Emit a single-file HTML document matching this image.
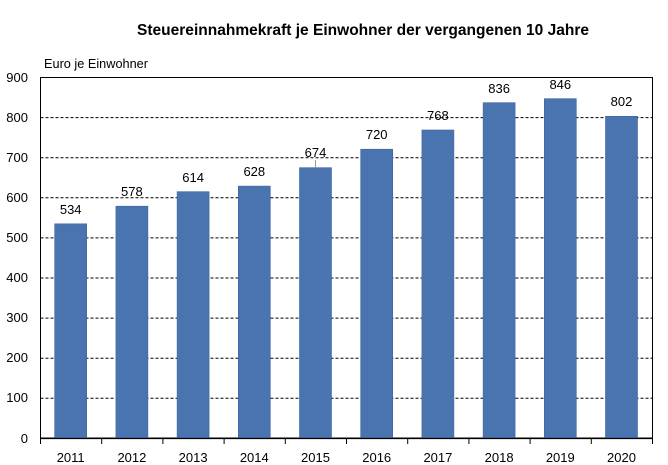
<!DOCTYPE html>
<html><head><meta charset="utf-8"><style>html,body{margin:0;padding:0;background:#fff}svg{display:block}</style></head>
<body>
<svg width="668" height="465" viewBox="0 0 668 465" xmlns="http://www.w3.org/2000/svg" font-family="'Liberation Sans', sans-serif">
<text x="137" y="35" font-size="16" font-weight="bold" textLength="452" lengthAdjust="spacingAndGlyphs">Steuereinnahmekraft je Einwohner der vergangenen 10 Jahre</text>
<text x="44" y="68" font-size="12.5" textLength="104" lengthAdjust="spacingAndGlyphs">Euro je Einwohner</text>
<g stroke="#000" stroke-width="1" stroke-dasharray="3,2">
<line x1="40.5" y1="117.6" x2="652.5" y2="117.6"/>
<line x1="40.5" y1="157.7" x2="652.5" y2="157.7"/>
<line x1="40.5" y1="197.8" x2="652.5" y2="197.8"/>
<line x1="40.5" y1="237.9" x2="652.5" y2="237.9"/>
<line x1="40.5" y1="278.0" x2="652.5" y2="278.0"/>
<line x1="40.5" y1="318.1" x2="652.5" y2="318.1"/>
<line x1="40.5" y1="358.2" x2="652.5" y2="358.2"/>
<line x1="40.5" y1="398.3" x2="652.5" y2="398.3"/>
</g>
<rect x="40.5" y="77.5" width="612" height="360.5" fill="none" stroke="#000" stroke-width="1"/>
<g fill="#4a74b0" stroke="#3d63a0" stroke-width="0.6">
<rect x="54.7" y="223.8" width="32" height="214.2"/>
<rect x="115.9" y="206.2" width="32" height="231.8"/>
<rect x="177.1" y="191.7" width="32" height="246.3"/>
<rect x="238.3" y="186.1" width="32" height="251.9"/>
<rect x="299.5" y="167.7" width="32" height="270.3"/>
<rect x="360.7" y="149.2" width="32" height="288.8"/>
<rect x="421.9" y="130.0" width="32" height="308.0"/>
<rect x="483.1" y="102.7" width="32" height="335.3"/>
<rect x="544.3" y="98.7" width="32" height="339.3"/>
<rect x="605.5" y="116.3" width="32" height="321.7"/>
</g>
<line x1="315.5" y1="160" x2="315.5" y2="167.7" stroke="#999" stroke-width="1"/>
<line x1="40.5" y1="438.5" x2="652.5" y2="438.5" stroke="#000" stroke-width="1.2"/>
<g stroke="#000" stroke-width="1">
<line x1="40.5" y1="438" x2="40.5" y2="444"/><line x1="101.7" y1="438" x2="101.7" y2="444"/><line x1="162.9" y1="438" x2="162.9" y2="444"/><line x1="224.1" y1="438" x2="224.1" y2="444"/><line x1="285.3" y1="438" x2="285.3" y2="444"/><line x1="346.5" y1="438" x2="346.5" y2="444"/><line x1="407.7" y1="438" x2="407.7" y2="444"/><line x1="468.9" y1="438" x2="468.9" y2="444"/><line x1="530.1" y1="438" x2="530.1" y2="444"/><line x1="591.3" y1="438" x2="591.3" y2="444"/><line x1="652.5" y1="438" x2="652.5" y2="444"/>
</g>
<g font-size="13" text-anchor="end">
<text x="28" y="82">900</text><text x="28" y="122">800</text><text x="28" y="162">700</text><text x="28" y="202">600</text><text x="28" y="242">500</text><text x="28" y="282">400</text><text x="28" y="322">300</text><text x="28" y="362">200</text><text x="28" y="402">100</text><text x="28" y="443">0</text>
</g>
<g font-size="13" text-anchor="middle">
<text x="70.7" y="214">534</text><text x="131.9" y="196">578</text><text x="193.1" y="182">614</text><text x="254.3" y="176">628</text><text x="315.5" y="157">674</text><text x="376.7" y="139">720</text><text x="437.9" y="120">768</text><text x="499.1" y="93">836</text><text x="560.3" y="89">846</text><text x="621.5" y="106">802</text>
</g>
<g font-size="13" text-anchor="middle">
<text x="70.7" y="462">2011</text><text x="131.9" y="462">2012</text><text x="193.1" y="462">2013</text><text x="254.3" y="462">2014</text><text x="315.5" y="462">2015</text><text x="376.7" y="462">2016</text><text x="437.9" y="462">2017</text><text x="499.1" y="462">2018</text><text x="560.3" y="462">2019</text><text x="621.5" y="462">2020</text>
</g>
</svg>
</body></html>
